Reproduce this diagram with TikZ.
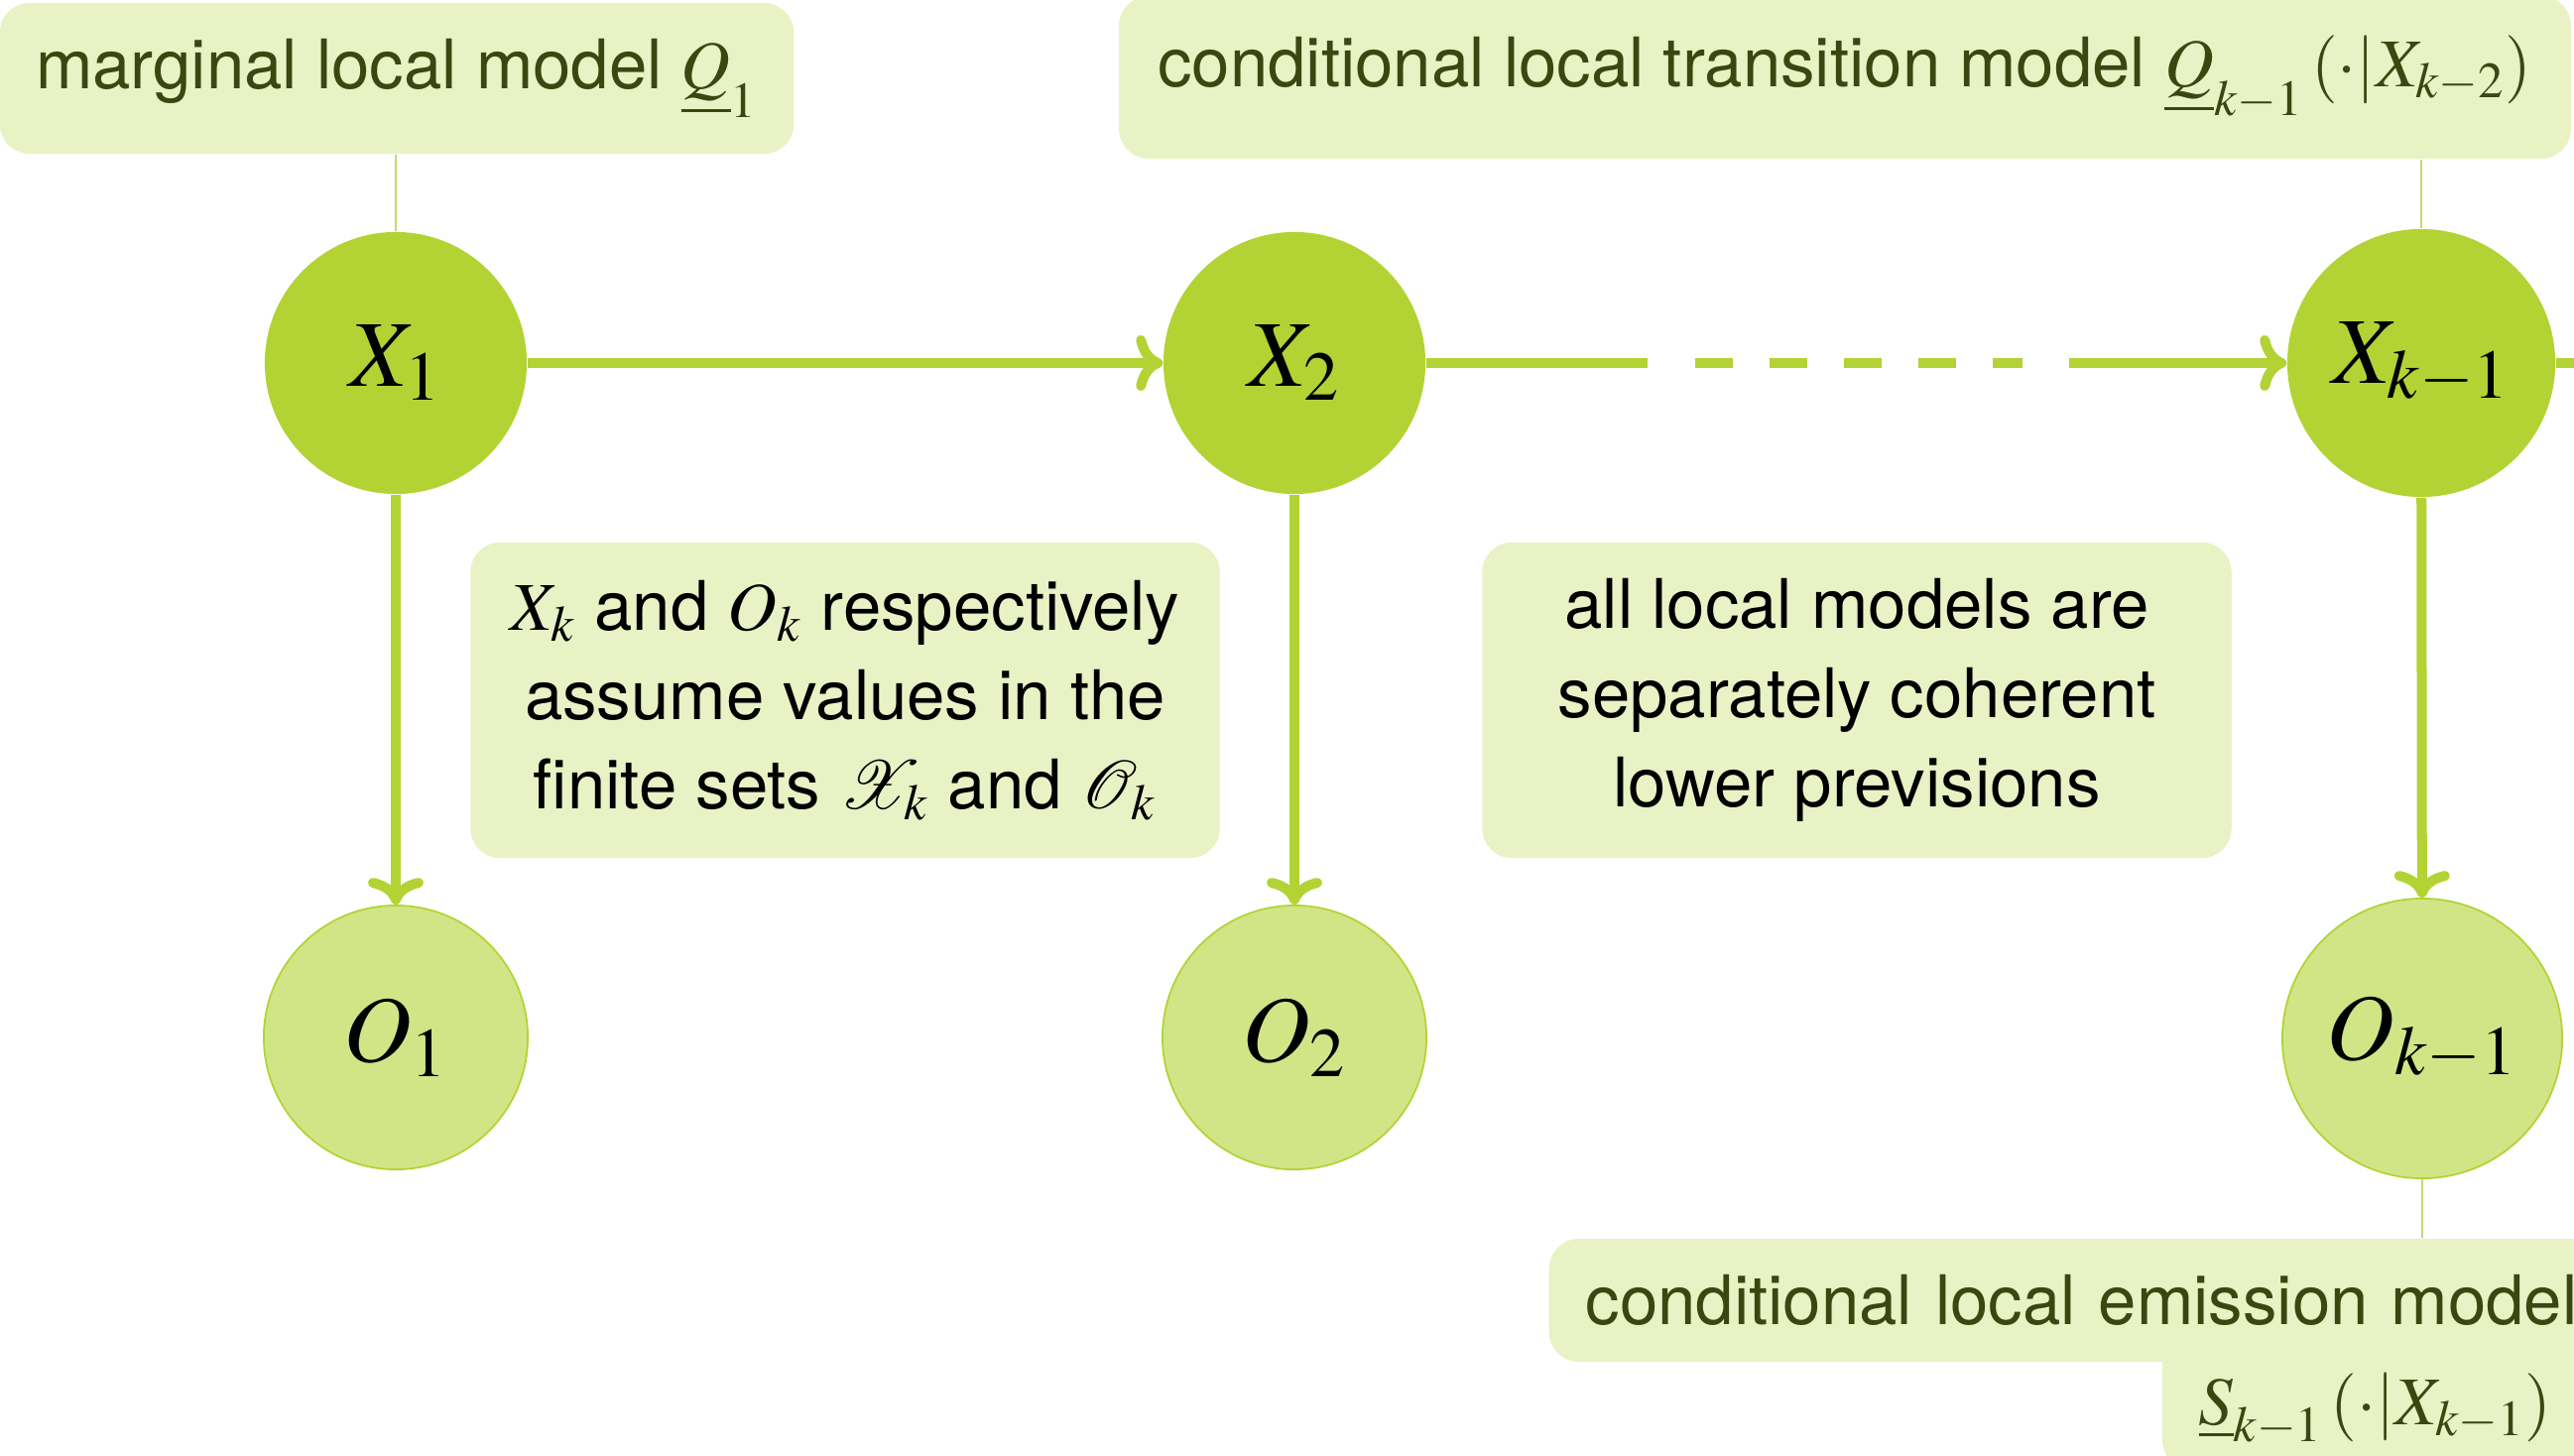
\documentclass[tikz,border=0pt]{standalone}
\usepackage{mathptmx}
\usepackage[no-math]{fontspec}
\setmainfont{TeX Gyre Heros}
\usetikzlibrary{arrows.meta,calc}
\definecolor{xfill}{HTML}{B3D334}
\definecolor{ofill}{HTML}{D1E586}
\definecolor{boxfill}{HTML}{E8F2C5}
\definecolor{olivetext}{HTML}{3B4611}
\definecolor{thinlink}{HTML}{C3DB6E}
\begin{document}
\begin{tikzpicture}[x=0.01cm,y=-0.01cm,
  xnode/.style={circle,fill=xfill,inner sep=0pt,minimum size=2.64cm,font=\fontsize{27}{32}\selectfont},
  onode/.style={circle,fill=ofill,draw=xfill,line width=0.5pt,inner sep=0pt,minimum size=2.66cm,font=\fontsize{27}{32}\selectfont},
  infobox/.style={fill=boxfill,rounded corners=0.3cm,inner sep=0pt,align=center,font=\fontsize{19.6}{25.6}\selectfont},
  modelbox/.style={infobox,text=olivetext},
  arr/.style={draw=xfill,line width=0.1cm,-{Computer Modern Rightarrow[length=0.27cm,width=0.56cm]}},
  flow/.style={draw=xfill,line width=0.1cm},
  link/.style={draw=thinlink,line width=0.012cm}]
\useasboundingbox (0,0) rectangle (2595,1467);
\clip (0,0) rectangle (2595,1467);

% top model boxes
\node[modelbox,minimum width=8.0cm,minimum height=1.52cm] (marg) at (400,79)
  {marginal local model $\underline{Q}_1$};
\node[modelbox,minimum width=14.63cm,minimum height=1.64cm] (cond) at (1860,78)
  {conditional local transition model $\underline{Q}_{k-1}\left(\cdot\middle|X_{k-2}\right)$};

% hidden state nodes
\node[xnode] (X1) at (399,366) {$X_1$};
\node[xnode] (X2) at (1305,366) {$X_2$};
\node[xnode,minimum size=2.70cm] (Xk1) at (2441,366) {$X_{k-1}$};

% observation nodes
\node[onode] (O1) at (399,1046) {$O_1$};
\node[onode] (O2) at (1305,1046) {$O_2$};
\node[onode,minimum size=2.82cm] (Ok1) at (2442,1047) {$O_{k-1}$};

% middle info boxes
\node[infobox,text=black,minimum width=7.55cm,minimum height=3.18cm] (info1) at (852,706)
  {$X_k$ and $O_k$ respectively\\assume values in the\\finite sets $\mathcal{X}_k$ and $\mathcal{O}_k$};
\node[infobox,text=black,minimum width=7.55cm,minimum height=3.18cm] (info2) at (1872,706)
  {all local models are\\separately coherent\\lower previsions};

% emission box (wrapped over two lines, clipped at the right)
\fill[boxfill,rounded corners=0.3cm] (2180,1340) rectangle (2720,1482);
\node[modelbox,anchor=west,text width=10.5cm,align=left,inner xsep=0.37cm,minimum height=1.24cm] (emis) at (1561,1311)
  {conditional local emission model};
\node[anchor=base west,inner sep=0pt,text=olivetext,font=\fontsize{19.6}{25.6}\selectfont] (emis2) at (2216,1436)
  {$\underline{S}_{k-1}\left(\cdot\middle|X_{k-1}\right)$};

% thin links from model boxes
\draw[link] (marg.south -| X1.north) -- (X1.north);
\draw[link] (cond.south -| Xk1.north) -- (Xk1.north);
\draw[link] (Ok1.south) -- (emis.north -| Ok1.south);

% chain
\coordinate (d1) at (1661,366);
\coordinate (d2) at (1709,366);
\coordinate (d3) at (2039,366);
\coordinate (d4) at (2086,366);
\coordinate (xout) at (2700,366);
\draw[arr] (X1) -- (X2);
\draw[flow] (X2.east) -- (d1);
\draw[flow,dash pattern=on 0.375cm off 0.375cm] (d2) -- (d3);
\draw[arr] (d4) -- (Xk1.west);
\draw[flow] (Xk1.east) -- (xout);

% emissions
\draw[arr] (X1) -- (O1);
\draw[arr] (X2) -- (O2);
\draw[arr] (Xk1) -- (Ok1);
\end{tikzpicture}
\end{document}
